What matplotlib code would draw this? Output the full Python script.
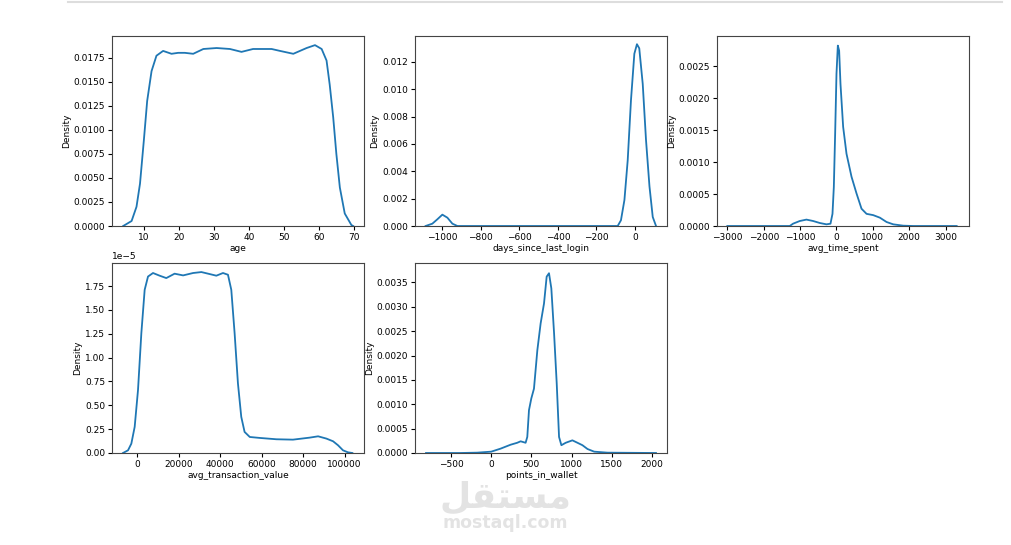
import matplotlib.pyplot as plt
from matplotlib.lines import Line2D

# KDE curves, (x, density) pairs per column
age_x = [4.1, 6.5, 7.9, 8.9, 10, 10.95, 12.2, 13.6, 15.5, 17.9, 19.8, 21.7, 24.1, 27,
         30.8, 34.6, 37.9, 41.2, 46.5, 48.9, 52.7, 56.5, 58.9, 60.8, 62.2, 63.1, 64.1,
         65, 66, 67.4, 69.3, 69.8]
age_y = [0, 0.00052, 0.0020, 0.0044, 0.0089, 0.0130, 0.0161, 0.0177, 0.0182, 0.0179,
         0.0180, 0.0180, 0.0179, 0.0184, 0.0185, 0.0184, 0.0181, 0.0184, 0.0184, 0.0182,
         0.0179, 0.0185, 0.0188, 0.0184, 0.0172, 0.0147, 0.0113, 0.0075, 0.0040, 0.0013,
         0.0001, 0]

login_x = [-1087, -1052, -1026, -1000, -974, -948, -922, -90, -73, -55, -38, -21, -3.5,
           10, 22, 40, 57, 75, 92, 109]
login_y = [0, 0.00017, 0.00049, 0.00083, 0.00061, 0.00017, 0, 0, 0.00042, 0.0019, 0.0048,
           0.0092, 0.0126, 0.0133, 0.0130, 0.0104, 0.0063, 0.0029, 0.00066, 0]

time_x = [-3000, -1284, -1193, -1009, -826, -642, -459, -275, -165, -110, -73, -37, 0, 37,
          73, 110, 183, 275, 413, 550, 688, 826, 1009, 1193, 1376, 1560, 1835, 2110, 3303]
time_y = [0, 0, 0.0000365, 0.000078, 0.0001, 0.000078, 0.000047, 0.000026, 0.000036,
          0.00019, 0.00061, 0.00144, 0.00238, 0.00282, 0.00274, 0.00222, 0.00155, 0.00113,
          0.00077, 0.00051, 0.00027, 0.00019, 0.00017, 0.00013, 0.0000625, 0.000026,
          0.000005, 0, 0]

trans_x = [-6740, -4330, -2730, -1120, 480, 2090, 3690, 5300, 7700, 10900, 14100, 18100,
           22200, 27000, 31000, 35000, 38200, 41400, 43800, 45400, 47000, 48600, 50200,
           51800, 54300, 59100, 67100, 75100, 83100, 87200, 91200, 94400, 96800, 99200,
           101600, 103700]
trans_y = [0, 2.8e-7, 9.8e-7, 2.74e-6, 6.6e-6, 1.256e-5, 1.711e-5, 1.85e-5, 1.887e-5,
           1.859e-5, 1.834e-5, 1.88e-5, 1.862e-5, 1.887e-5, 1.897e-5, 1.876e-5, 1.859e-5,
           1.887e-5, 1.869e-5, 1.711e-5, 1.256e-5, 7.3e-6, 3.79e-6, 2.21e-6, 1.68e-6,
           1.58e-6, 1.44e-6, 1.40e-6, 1.61e-6, 1.75e-6, 1.51e-6, 1.23e-6, 8.1e-7, 2.8e-7,
           7e-8, 0]

wallet_x = [-811, -383, -175, 0, 116, 241, 324, 366, 428, 449, 470, 499, 532, 574, 615,
            657, 690, 719, 748, 782, 815, 844, 873, 927, 1010, 1073, 1135, 1198, 1281,
            1447, 2050]
wallet_y = [0, 0, 0.0000069, 0.0000275, 0.000089, 0.00017, 0.00021, 0.00024, 0.00021,
            0.00033, 0.00088, 0.00112, 0.00132, 0.00211, 0.00266, 0.00307, 0.00362,
            0.00369, 0.00338, 0.00246, 0.00143, 0.00033, 0.00016, 0.00021, 0.00026,
            0.00021, 0.00016, 0.000082, 0.0000275, 0.0000069, 0]

panels = [
    ("age", age_x, age_y, (0.9, 72.9), 0.01975),
    ("days_since_last_login", login_x, login_y, (-1142, 166), 0.0139),
    ("avg_time_spent", time_x, time_y, (-3284, 3642), 0.00297),
    ("avg_transaction_value", trans_x, trans_y, (-12040, 109300), 1.992e-5),
    ("points_in_wallet", wallet_x, wallet_y, (-948, 2187), 0.0039),
]

plt.rcParams['font.size'] = 6.5
fig = plt.figure(figsize=(10.11, 5.45), dpi=100)
W, H = 1011, 545
lefts = [112, 415, 717]
tops = [36, 263]
aw, ah = 252, 190

for i, (name, xs, ys, xlim, ymax) in enumerate(panels):
    r, c = divmod(i, 3)
    ax = fig.add_axes([lefts[c] / W, 1 - (tops[r] + ah) / H, aw / W, ah / H])
    ax.plot(xs, ys, color="#1f77b4", lw=1.3)
    ax.set_xlim(*xlim)
    ax.set_ylim(0, ymax)
    ax.set_xlabel(name, labelpad=1.5)
    ax.set_ylabel("Density", labelpad=2)
    ax.tick_params(length=3, pad=2)
    for s in ax.spines.values():
        s.set_linewidth(0.8)
        s.set_color("#444444")

# notebook cell border at the top
fig.add_artist(Line2D([68 / W, 1002 / W], [1 - 2 / H, 1 - 2 / H], color="#dddddd", lw=1.5))

# watermark
fig.text(505 / W, 1 - 497 / H, "\ufede\ufed8\ufe98\ufeb4\ufee3", ha="center", va="center",
         fontsize=26, fontweight="bold", color="#e3e3e3")
fig.text(505 / W, 1 - 523 / H, "mostaql.com", ha="center", va="center",
         fontsize=12.5, fontweight="bold", color="#e3e3e3")

fig.savefig("out.png", dpi=100)
